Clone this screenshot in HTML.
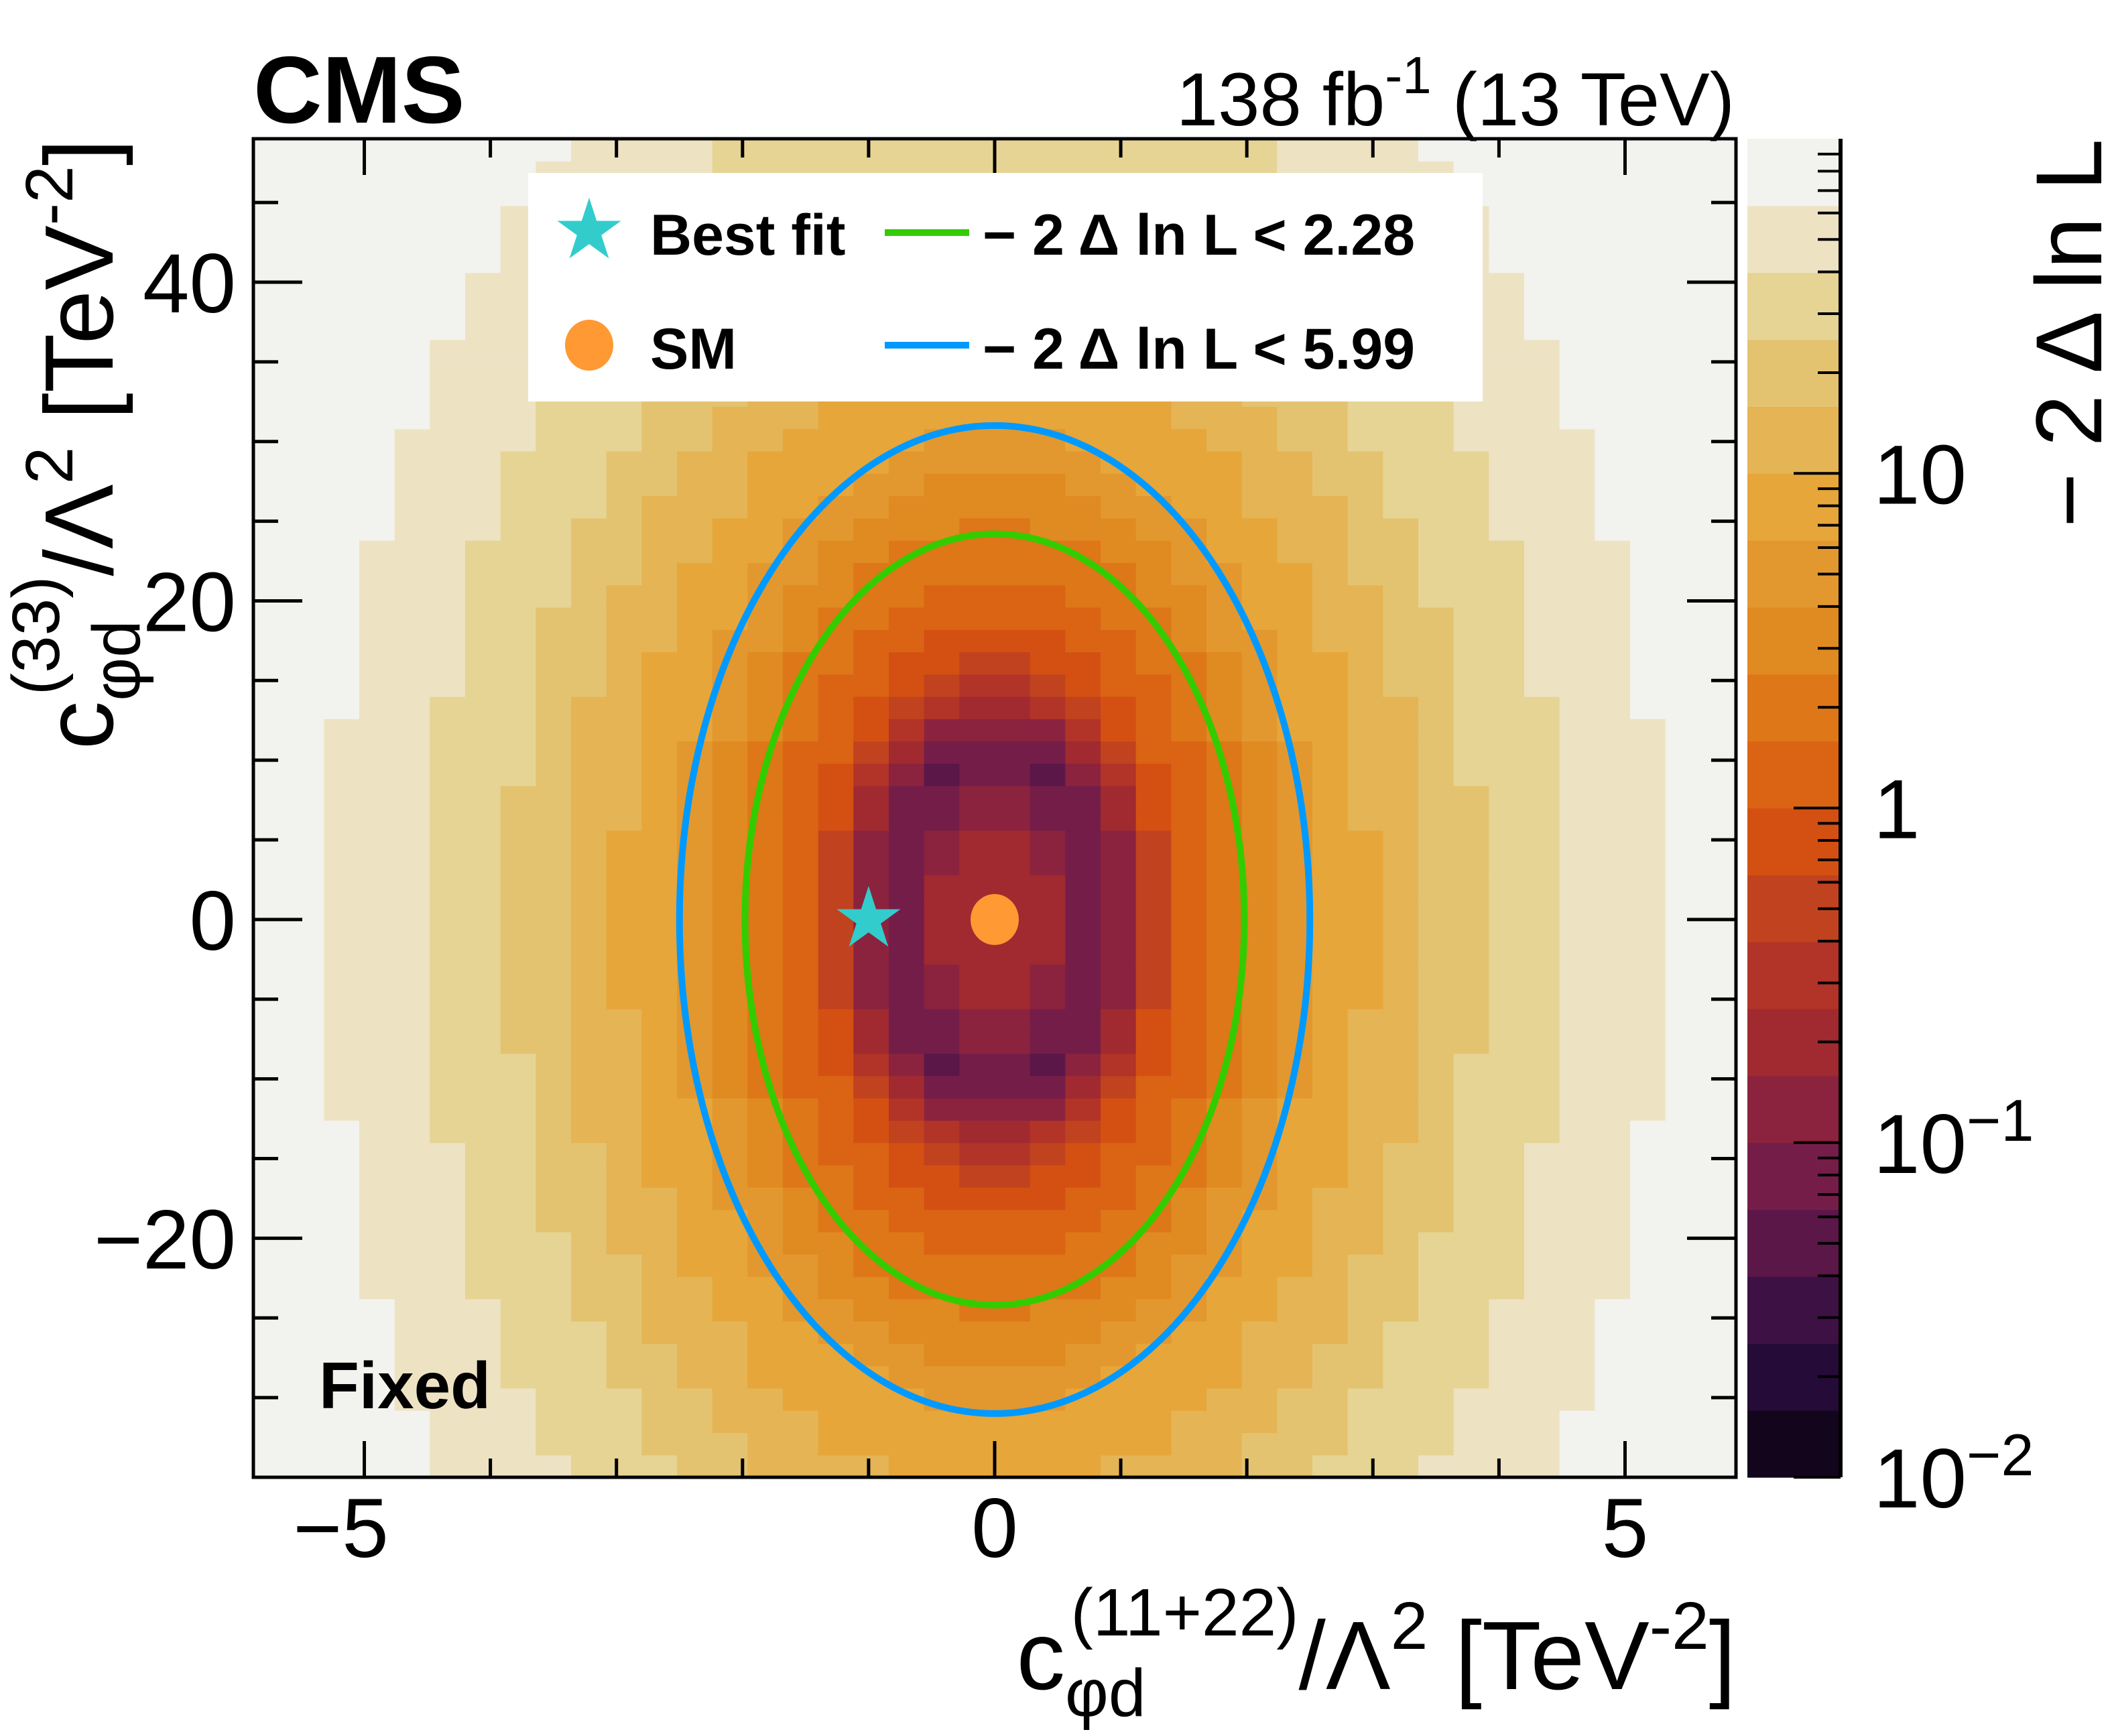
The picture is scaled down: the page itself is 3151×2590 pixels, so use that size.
<!DOCTYPE html>
<html><head><meta charset="utf-8"><style>
html,body{margin:0;padding:0;background:#fff;}
svg{display:block;font-family:"Liberation Sans",Arial,sans-serif;}
</style></head><body>
<svg id="chart" width="3151" height="2590" viewBox="0 0 3151 2590" xmlns="http://www.w3.org/2000/svg">
<rect width="3151" height="2590" fill="#fff"/>
<g id="heat"></g>
<g id="contours"></g>
<g id="markers"></g>
<g id="axes"></g>
<g id="cbar"></g>
<g id="legend"></g>

<text x="378" y="183" font-size="142" font-weight="bold">CMS</text>
<text x="2588" y="187" font-size="112" text-anchor="end">138 fb<tspan font-size="78" dy="-48">-1</tspan><tspan dy="48"> (13 TeV)</tspan></text>
<text x="476" y="2101" font-size="98" font-weight="bold">Fixed</text>

<text x="2590" y="2520" font-size="145" text-anchor="end">c<tspan font-size="100" dy="40">φd</tspan><tspan font-size="100" dx="-112" dy="-120">(11+22)</tspan><tspan dy="80">/Λ</tspan><tspan font-size="100" dy="-60">2</tspan><tspan dy="60"> [TeV</tspan><tspan font-size="100" dy="-60">-2</tspan><tspan dy="60">]</tspan></text>

<text transform="translate(168,207) rotate(-90)" x="0" y="0" font-size="145" text-anchor="end">c<tspan font-size="100" dy="40">φd</tspan><tspan font-size="100" dx="-112" dy="-120">(33)</tspan><tspan dy="80">/Λ</tspan><tspan font-size="100" dy="-60">2</tspan><tspan dy="60"> [TeV</tspan><tspan font-size="100" dy="-60">-2</tspan><tspan dy="60">]</tspan></text>

<text transform="translate(3135,207) rotate(-90)" x="0" y="0" font-size="140" text-anchor="end">− 2 Δ ln L</text>
</svg>
<script>
// ---- data ----
const xRange = [-5.88, 5.88];
const yRange = [-35, 49];
const xBinWidth = 0.28;
const yBinWidth = 1.4;
// likelihood profile along elliptical radius s
const profileRadius = [0, 0.5, 0.85, 1.1, 1.4, 1.98, 2.5, 4.0, 5.28, 8.0];
const profileValue  = [0.3, 0.15, 0.06, 0.18, 0.8, 2.28, 5.99, 30, 63, 200];
const ellipseScale = [1.0, 12.2];
const colorLevels = ["#13061c","#250b37","#3e1144","#5a1748","#751d49","#8b233e","#a02a2f","#b23327","#c1421e","#d45012","#da6414","#dd7718","#e08a22","#e2982e","#e6a63a","#e4b455","#e4c370","#e6d494","#ede3c3","#f2f2ee"];
const zRangeLog = [-2, 2];
const contour68 = [0, 0, 1.98, 24.2];
const contour95 = [0, 0, 2.5, 31.0];
const bestFit = [-1.0, 0];
const smPoint = [0, 0];
const xMajorTicks = [-5, 0, 5];
const xMajorLabels = ["−5", "0", "5"];
const yMajorTicks = [-20, 0, 20, 40];
const yMajorLabels = ["−20", "0", "20", "40"];
const cbarLabels = ["10", "1", "10", "10"];
const cbarLabelExps = ["", "", "−1", "−2"];
const cbarLabelVals = [1, 0, -1, -2];

// ---- geometry ----
const PL = 378, PR = 2590, PT = 207, PB = 2204;
const NS = "http://www.w3.org/2000/svg";
function sx(v){ return PL + (v - xRange[0]) / (xRange[1] - xRange[0]) * (PR - PL); }
function sy(v){ return PB - (v - yRange[0]) / (yRange[1] - yRange[0]) * (PB - PT); }
function mk(tag, attrs, parent){ const e = document.createElementNS(NS, tag); for (const k in attrs) e.setAttribute(k, attrs[k]); parent.appendChild(e); return e; }
function profile(s){
  for (let i = 0; i < profileRadius.length - 1; i++){
    if (s <= profileRadius[i+1]){
      const t = (s - profileRadius[i]) / (profileRadius[i+1] - profileRadius[i]);
      return Math.pow(10, Math.log10(profileValue[i]) + t * (Math.log10(profileValue[i+1]) - Math.log10(profileValue[i])));
    }
  }
  return profileValue[profileValue.length-1];
}
function colorFor(f){
  const lg = Math.log10(f);
  let k = Math.floor((lg - zRangeLog[0]) / ((zRangeLog[1]-zRangeLog[0]) / colorLevels.length));
  k = Math.max(0, Math.min(colorLevels.length - 1, k));
  return colorLevels[k];
}

// heatmap
const heat = document.getElementById('heat');
const nx = Math.round((xRange[1]-xRange[0]) / xBinWidth);
const iy0 = Math.floor(yRange[0] / yBinWidth), iy1 = Math.ceil(yRange[1] / yBinWidth);
for (let i = 0; i < nx; i++){
  const x0 = xRange[0] + i * xBinWidth, x1 = x0 + xBinWidth, xc = (x0 + x1) / 2;
  for (let j = iy0; j < iy1; j++){
    let y0 = j * yBinWidth, y1 = y0 + yBinWidth; const yc = (y0 + y1) / 2;
    y0 = Math.max(y0, yRange[0]); y1 = Math.min(y1, yRange[1]);
    const s = Math.sqrt(Math.pow(xc/ellipseScale[0],2) + Math.pow(yc/ellipseScale[1],2));
    const r = mk('rect', {x: sx(x0).toFixed(2), y: sy(y1).toFixed(2), width: (sx(x1)-sx(x0)+0.6).toFixed(2), height: (sy(y0)-sy(y1)+0.6).toFixed(2), fill: colorFor(profile(s))}, heat);
    
    
  }
}

// contours
const cg = document.getElementById('contours');
const pxu = (PR-PL)/(xRange[1]-xRange[0]), pyu = (PB-PT)/(yRange[1]-yRange[0]);
const e1 = mk('ellipse', {cx: sx(contour95[0]), cy: sy(contour95[1]), rx: contour95[2]*pxu, ry: contour95[3]*pyu, fill:'none', stroke:'#0099ff', 'stroke-width': 10}, cg);


const e2 = mk('ellipse', {cx: sx(contour68[0]), cy: sy(contour68[1]), rx: contour68[2]*pxu, ry: contour68[3]*pyu, fill:'none', stroke:'#33cc00', 'stroke-width': 10}, cg);



function starPath(cx, cy, R){
  const r = R * 0.382; let d = '';
  for (let k = 0; k < 10; k++){
    const a = -Math.PI/2 + k * Math.PI/5, rr = k % 2 ? r : R;
    d += (k ? 'L' : 'M') + (cx + rr*Math.cos(a)).toFixed(1) + ',' + (cy + rr*Math.sin(a)).toFixed(1);
  }
  return d + 'Z';
}
const mg = document.getElementById('markers');
const st = mk('path', {d: starPath(sx(bestFit[0]), sy(bestFit[1]), 50), fill:'#33cccc'}, mg);


const smc = mk('ellipse', {cx: sx(smPoint[0]), cy: sy(smPoint[1]), rx: 36, ry: 38, fill:'#ff9933'}, mg);



// axes
const ax = document.getElementById('axes');
const fr = mk('rect', {x: PL, y: PT, width: PR-PL, height: PB-PT, fill:'none', stroke:'#000', 'stroke-width': 5}, ax);


for (let v = -5; v <= 5; v++){
  const major = xMajorTicks.includes(v), L = major ? 54 : 28, X = sx(v);
  const t1 = mk('line', {x1: X, x2: X, y1: PB, y2: PB-L, stroke:'#000', 'stroke-width': 5}, ax);
  
  
  const t2 = mk('line', {x1: X, x2: X, y1: PT, y2: PT+L, stroke:'#000', 'stroke-width': 5}, ax);
  
  
}
xMajorTicks.forEach((v, i) => {
  const t = mk('text', {x: sx(v) - (xMajorLabels[i].startsWith('−') ? 35 : 0), y: 2323, 'font-size': 125, 'text-anchor': 'middle'}, ax);
  t.textContent = xMajorLabels[i];
  
  
});
for (let v = -35; v <= 45; v += 5){
  const major = yMajorTicks.includes(v), L = major ? 73 : 37, Y = sy(v);
  const t1 = mk('line', {x1: PL, x2: PL+L, y1: Y, y2: Y, stroke:'#000', 'stroke-width': 5}, ax);
  
  
  const t2 = mk('line', {x1: PR, x2: PR-L, y1: Y, y2: Y, stroke:'#000', 'stroke-width': 5}, ax);
  
  
}
yMajorTicks.forEach((v, i) => {
  const t = mk('text', {x: 352, y: sy(v) + 45, 'font-size': 125, 'text-anchor': 'end'}, ax);
  t.textContent = yMajorLabels[i];
  
  
});

// colour bar
const cb = document.getElementById('cbar');
const CL = 2607, CR = 2746;
const bandH = (PB-PT)/colorLevels.length;
colorLevels.forEach((c, k) => {
  const r = mk('rect', {x: CL, y: (PB - (k+1)*bandH).toFixed(2), width: CR-CL, height: (bandH+0.6).toFixed(2), fill: c}, cb);
  
  
});
const cbl = mk('line', {x1: CR, x2: CR, y1: PT, y2: PB, stroke:'#000', 'stroke-width': 6}, cb);


function cy(lg){ return PB - (lg - zRangeLog[0]) / (zRangeLog[1]-zRangeLog[0]) * (PB-PT); }
for (let d = zRangeLog[0]; d < zRangeLog[1]; d++){
  for (let m = 1; m <= 9; m++){
    const Y = cy(d + Math.log10(m)), L = m === 1 ? 70 : 34;
    const t = mk('line', {x1: CR, x2: CR-L, y1: Y, y2: Y, stroke:'#000', 'stroke-width': 4}, cb);
    
    
  }
}
cbarLabels.forEach((lab, i) => {
  const t = mk('text', {x: 2795, y: cy(cbarLabelVals[i]) + 45, 'font-size': 125}, cb);
  t.textContent = lab;
  if (cbarLabelExps[i]){
    const sp = document.createElementNS(NS, 'tspan');
    sp.setAttribute('font-size', '88'); sp.setAttribute('dy', '-48');
    sp.textContent = cbarLabelExps[i];
    t.appendChild(sp);
  }
  
  
});

// legend
const lg = document.getElementById('legend');
const lb = mk('rect', {x: 788, y: 258, width: 1424, height: 341, fill:'#fff'}, lg);


const ls = mk('path', {d: starPath(879, 345, 50), fill:'#33cccc'}, lg);


const lc = mk('ellipse', {cx: 879, cy: 515, rx: 36, ry: 38, fill:'#ff9933'}, lg);


const lgl = mk('line', {x1: 1320, x2: 1446, y1: 347, y2: 347, stroke:'#33cc00', 'stroke-width': 10}, lg);


const lbl = mk('line', {x1: 1320, x2: 1446, y1: 515, y2: 515, stroke:'#0099ff', 'stroke-width': 10}, lg);


[["Best fit", 970, 380, 'legend-best-fit-label'], ["SM", 970, 550, 'legend-sm-label'],
 ["− 2  Δ ln L < 2.28", 1466, 380, 'legend-2-28-label'], ["− 2  Δ ln L < 5.99", 1466, 550, 'legend-5-99-label']].forEach(a => {
  const t = mk('text', {x: a[1], y: a[2], 'font-size': 86, 'font-weight': 'bold', 'xml:space': 'preserve'}, lg);
  t.textContent = a[0];
  
  
});
</script>
</body></html>
